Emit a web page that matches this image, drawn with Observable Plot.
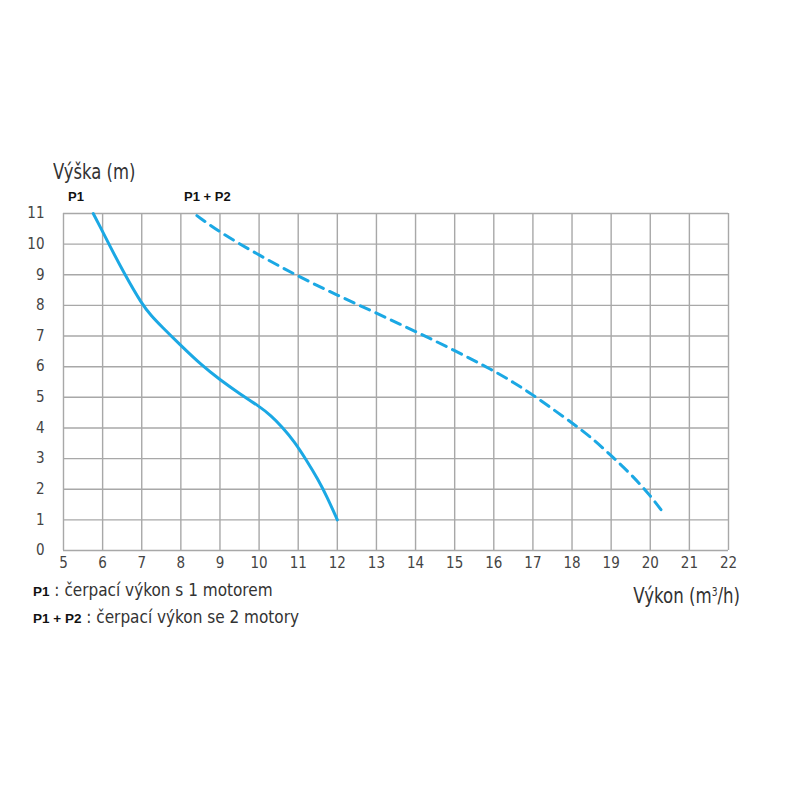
<!DOCTYPE html>
<html>
<head>
<meta charset="utf-8">
<script src="https://cdn.jsdelivr.net/npm/d3@7"></script>
<script src="https://cdn.jsdelivr.net/npm/@observablehq/plot@0.6"></script>
<style>
  html, body { margin: 0; padding: 0; background: #fff; }
  #wrap { position: relative; width: 800px; height: 800px; font-family: "DejaVu Sans Condensed", "Liberation Sans", sans-serif; color: #333; }
  #wrap svg { position: absolute; left: 0; top: 0; }
  .lbl { position: absolute; white-space: nowrap; line-height: 1; }
  .b { font-family: "Liberation Sans", "DejaVu Sans", sans-serif; font-weight: bold; color: #111; }
</style>
</head>
<body>
<div id="wrap"></div>
<script>
// Data
const p1Flow = [5.76, 6, 6.16, 6.57, 7.0, 7.25, 7.5, 8, 8.5, 9, 9.5, 10, 10.3, 10.6, 10.9, 11.2, 11.5, 11.75, 12];
const p1Head = [11, 10.41, 10, 9, 8.05, 7.65, 7.32, 6.69, 6.08, 5.57, 5.12, 4.71, 4.41, 4.02, 3.56, 2.97, 2.34, 1.72, 1.0];
const p12Flow = [8.41, 9, 10, 11, 12, 13, 14, 15, 16, 16.5, 17, 17.5, 18, 18.5, 19, 19.5, 20, 20.35];
const p12Head = [10.93, 10.38, 9.64, 8.95, 8.33, 7.75, 7.15, 6.53, 5.87, 5.49, 5.08, 4.62, 4.17, 3.68, 3.1, 2.5, 1.8, 1.2];
const xTicks = d3.range(5, 23);
const yTicks = d3.range(0, 12);
const labels = {
  yTitle: "Výška (m)",
  xTitle: "Výkon (m³/h)",
  p1: "P1",
  p12: "P1 + P2",
  p1Desc: "čerpací výkon s 1 motorem",
  p12Desc: "čerpací výkon se 2 motory"
};

const p1 = p1Flow.map((x, i) => ({x, y: p1Head[i]}));
const p12 = p12Flow.map((x, i) => ({x, y: p12Head[i]}));
const blue = "#1ba8e4";
const gridColor = "#a8a8a8";

const chart = Plot.plot({
  width: 800,
  height: 800,
  marginLeft: 63,
  marginRight: 72,
  marginTop: 213,
  marginBottom: 250,
  style: {fontFamily: "'DejaVu Sans Condensed', sans-serif", fontSize: "15px", color: "#444", background: "transparent"},
  x: {domain: [5, 22], ticks: xTicks},
  y: {domain: [0, 11], ticks: yTicks},
  marks: [
    Plot.gridX(xTicks, {stroke: gridColor, strokeOpacity: 1, strokeWidth: 1.4}),
    Plot.gridY(yTicks, {stroke: gridColor, strokeOpacity: 1, strokeWidth: 1.4}),
    Plot.axisX(xTicks, {tickSize: 0, tickPadding: 7, label: null, fontSize: 15, fill: "#444"}),
    Plot.axisY(yTicks, {tickSize: 0, tickPadding: 19, label: null, fontSize: 15, fill: "#444"}),
    Plot.line(p1, {x: "x", y: "y", curve: "basis", stroke: blue, strokeWidth: 3}),
    Plot.line(p12, {x: "x", y: "y", curve: "basis", stroke: blue, strokeWidth: 3, strokeDasharray: "10,7"})
  ]
});
const wrap = document.getElementById("wrap");
wrap.appendChild(chart);

function addLabel(html, left, top, size, extra = "") {
  const d = document.createElement("div");
  d.className = "lbl";
  d.innerHTML = html;
  d.style.left = left + "px";
  d.style.top = top + "px";
  d.style.fontSize = size + "px";
  if (extra) d.style.cssText += extra;
  wrap.appendChild(d);
  return d;
}
addLabel(labels.yTitle, 53, 161, 22, "transform:scaleX(0.83);transform-origin:left center;");
addLabel(`<span class="b">${labels.p1}</span>`, 68, 190, 13);
addLabel(`<span class="b">${labels.p12}</span>`, 184, 190, 13);
addLabel(`<span class="b" style="font-size:13.5px">${labels.p1}</span> : ${labels.p1Desc}`, 33, 582, 17);
addLabel(`<span class="b" style="font-size:13.5px">${labels.p12}</span> : ${labels.p12Desc}`, 33, 609, 17);
const xt = addLabel(labels.xTitle.replace("³", "<sup style='font-size:12px;vertical-align:7px'>3</sup>"), 0, 585, 22, "transform:scaleX(0.84);transform-origin:right center;");
xt.style.left = "auto";
xt.style.right = (800 - 740) + "px";
</script>
</body>
</html>
